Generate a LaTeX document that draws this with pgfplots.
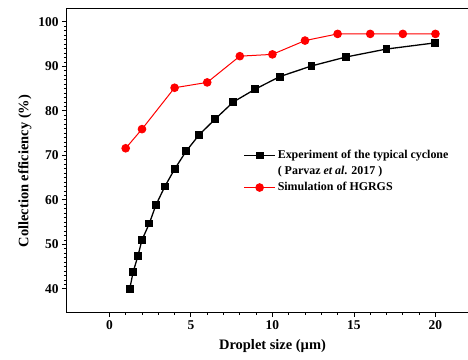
\documentclass[border=0pt]{standalone}
\usepackage{fontspec}
\setmainfont{Liberation Serif}
\usepackage{pgfplots}
\pgfplotsset{compat=1.18}
\begin{document}
\begin{tikzpicture}
\path[use as bounding box] (-67bp,-48bp) rectangle (401bp,312bp);
\begin{axis}[
  at={(0,0)}, anchor=south west,
  scale only axis, width=403bp, height=303bp,
  xmin=-2.6, xmax=22.12, ymin=34.8, ymax=102.9,
  xtick={0,5,10,15,20}, ytick={40,50,...,100},
  minor x tick num=4, minor y tick num=9,
  tick align=outside, tick pos=left,
  major tick length=5bp, minor tick length=3bp,
  axis line style={line width=1bp},
  every tick/.style={black, line width=0.8bp},
  ticklabel style={font=\fontsize{13.5}{15}\selectfont\bfseries},
  /pgf/number format/assume math mode=true,
  xlabel={Droplet size (µm)}, ylabel={Collection efficiency (\%)},
  label style={font=\fontsize{14.5}{16}\selectfont\bfseries},
  xlabel style={at={(ticklabel cs:0.51)}, yshift=-3bp},
  ylabel style={at={(ticklabel cs:0.465)}},
  legend style={draw=none, fill=none, at={(axis description cs:0.43,0.55)}, anchor=north west,
    font=\fontsize{12}{14}\selectfont\bfseries, row sep=0pt,
    nodes={inner sep=2bp, text height=9bp, text depth=3bp}},
  legend cell align=left,
  legend image code/.code={\draw[mark repeat=2,mark phase=2] plot coordinates {(0bp,0bp) (15.5bp,0bp) (31bp,0bp)};},
]
\addplot[black, line width=1.3bp, mark=square*, mark size=3.3bp] coordinates {
(1.25,40.0) (1.45,43.7) (1.75,47.4) (2.0,51.0) (2.45,54.7) (2.85,58.8) (3.4,63.0)
(4.0,66.9) (4.7,70.9) (5.5,74.6) (6.5,78.2) (7.6,82.0) (8.95,84.9) (10.45,87.7)
(12.4,90.1) (14.5,92.1) (17.0,93.9) (20.0,95.3)};
\addlegendentry{Experiment of the typical cyclone}
\addlegendimage{empty legend}
\addlegendentry{( Parvaz \textit{et al}. 2017 )}
\addplot[red, line width=1bp, mark=*, mark size=3.8bp] coordinates {
(1,71.6) (2,75.9) (4,85.2) (6,86.4) (8,92.3) (10,92.7) (12,95.8) (14,97.3) (16,97.3) (18,97.3) (20,97.3)};
\addlegendentry{Simulation of HGRGS}
\end{axis}
\end{tikzpicture}
\end{document}
